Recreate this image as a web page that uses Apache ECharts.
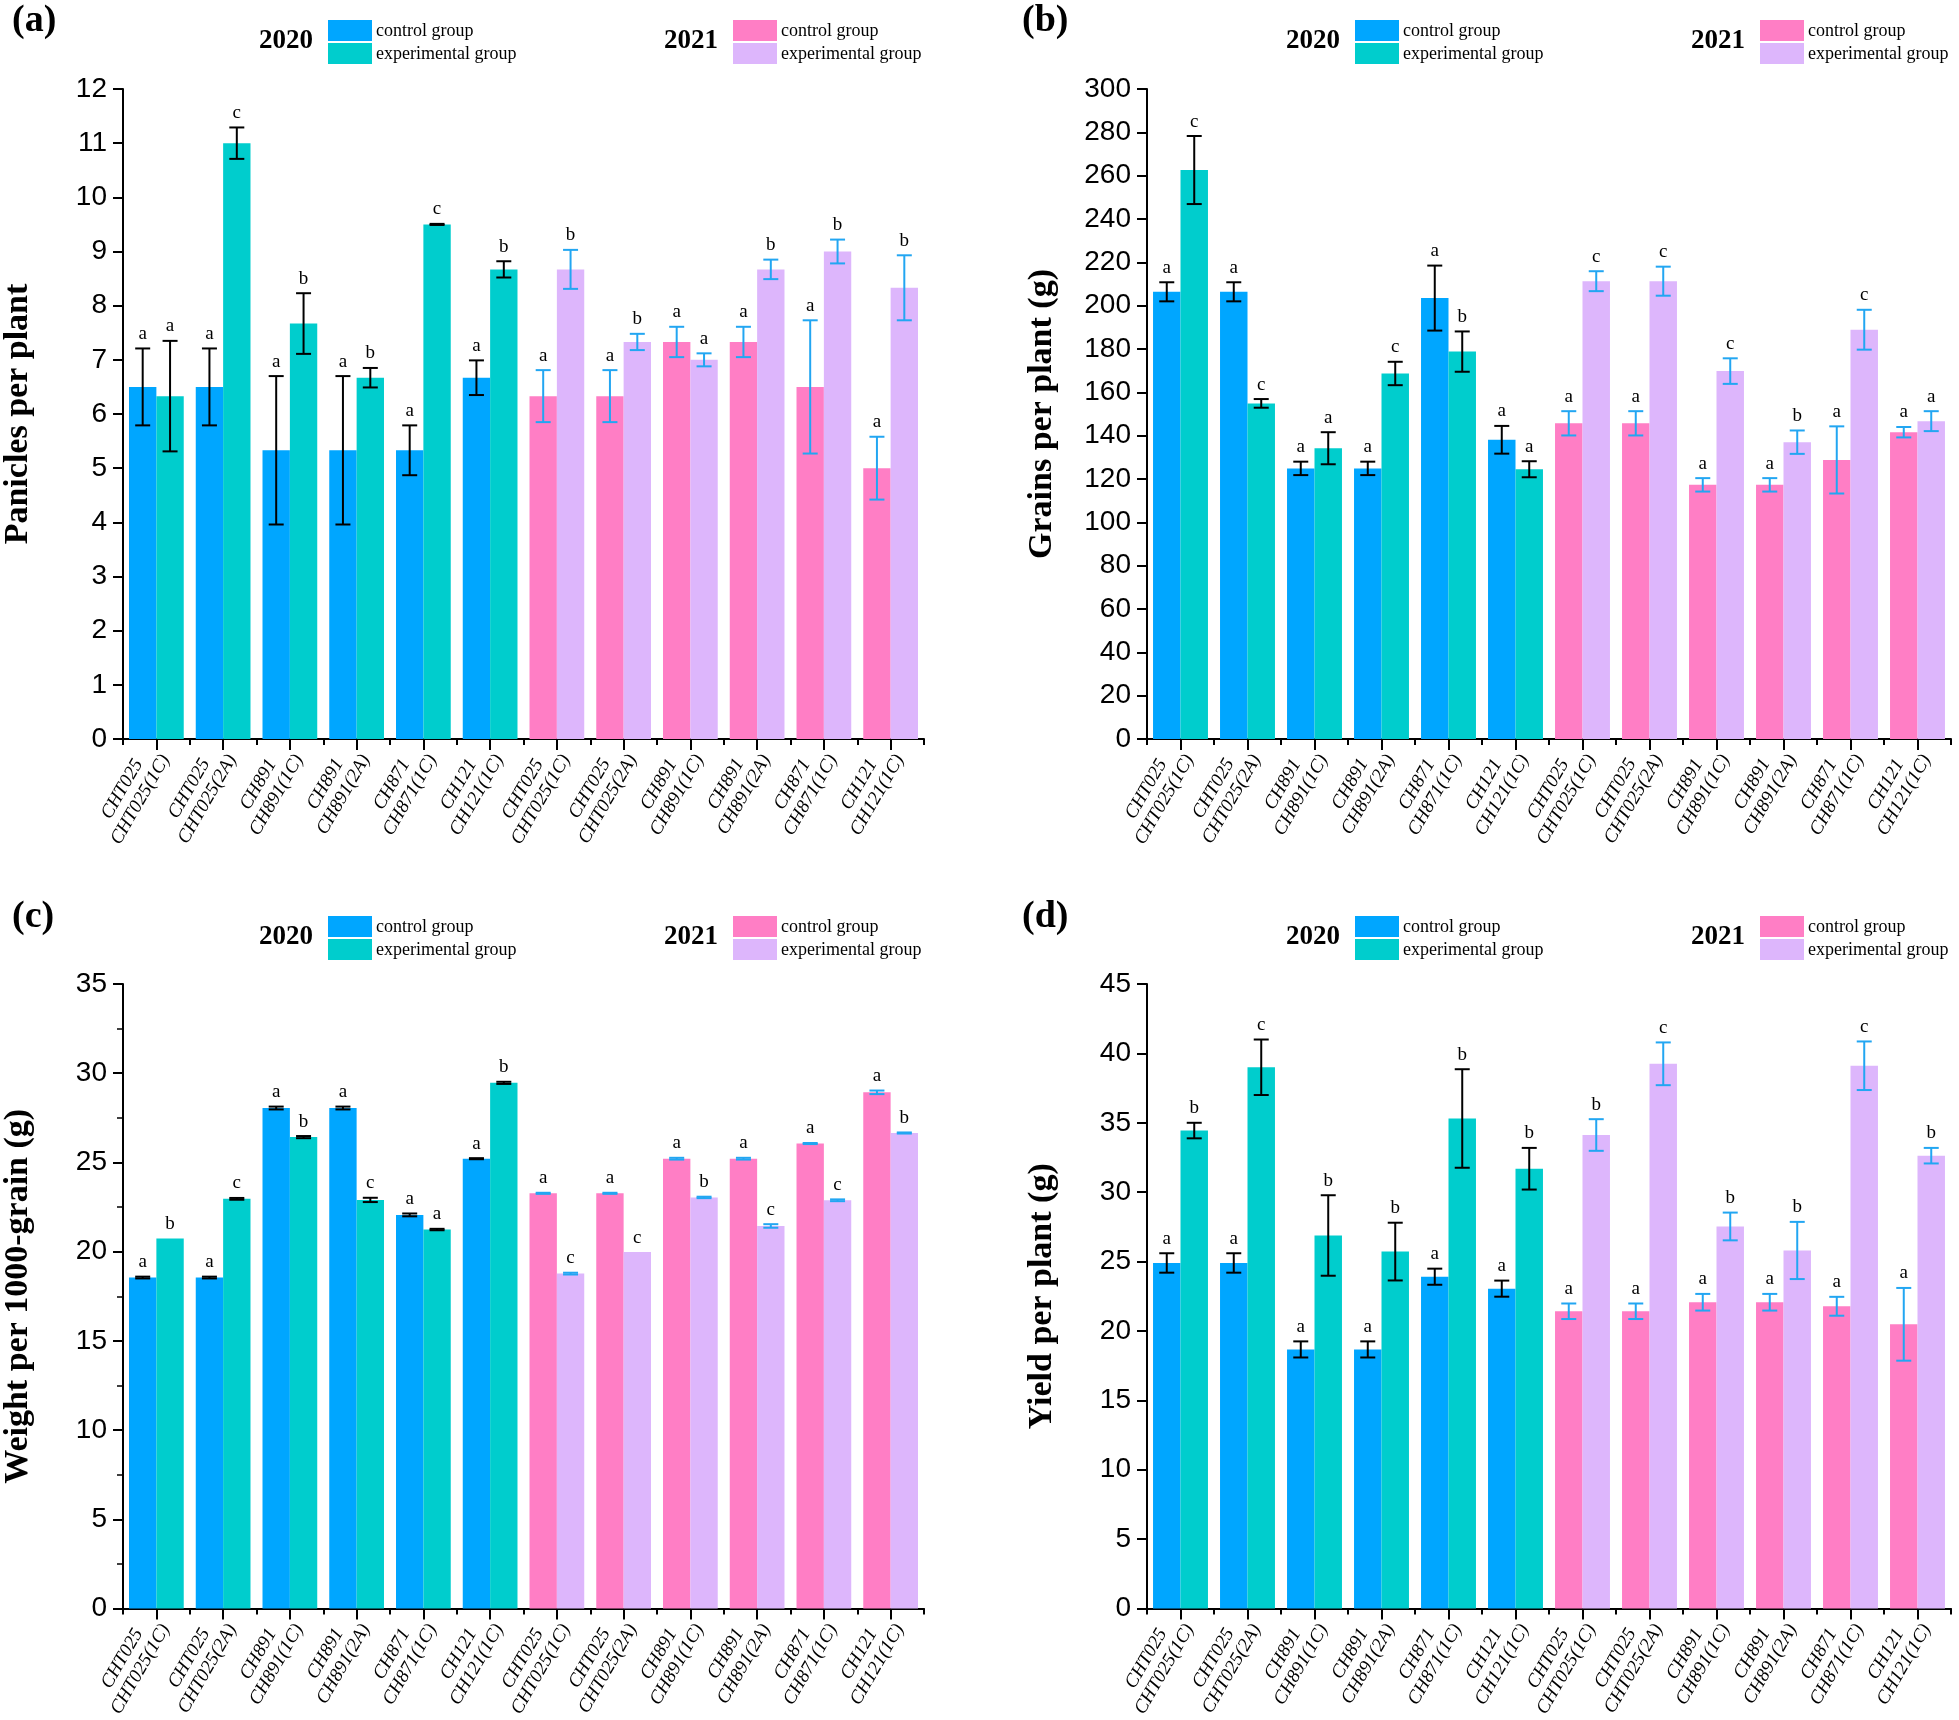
<!DOCTYPE html>
<html><head><meta charset="utf-8">
<script src="https://cdn.jsdelivr.net/npm/echarts@6/dist/echarts.min.js"></script>
<style>html,body{margin:0;padding:0;background:#fff}#c{width:1959px;height:1720px}</style>
</head><body><div id="c"></div>
<script>
// ---------- DATA ----------
const categories = [
  'CHT025\nCHT025(1C)', 'CHT025\nCHT025(2A)', 'CH891\nCH891(1C)', 'CH891\nCH891(2A)', 'CH871\nCH871(1C)', 'CH121\nCH121(1C)',
  'CHT025\nCHT025(1C)', 'CHT025\nCHT025(2A)', 'CH891\nCH891(1C)', 'CH891\nCH891(2A)', 'CH871\nCH871(1C)', 'CH121\nCH121(1C)'
];
const years = ['2020', '2021'];
const groupNames = ['control group', 'experimental group'];
const panelLetters = ['(a)', '(b)', '(c)', '(d)'];
const yTitles = ['Panicles per plant', 'Grains per plant (g)', 'Weight per 1000-grain (g)', 'Yield per plant (g)'];
const yMax = [12, 300, 35, 45];
const yStep = [1, 20, 5, 5];

// (a) Panicles per plant
const aCtrl    = [6.5, 6.5, 5.33, 5.33, 5.33, 6.67, 6.33, 6.33, 7.33, 7.33, 6.5, 5.0];
const aCtrlErr = [0.71, 0.71, 1.37, 1.37, 0.46, 0.32, 0.48, 0.48, 0.28, 0.28, 1.23, 0.58];
const aExp     = [6.33, 11.0, 7.67, 6.67, 9.5, 8.67, 8.67, 7.33, 7.0, 8.67, 9.0, 8.33];
const aExpErr  = [1.02, 0.29, 0.56, 0.18, 0.01, 0.15, 0.36, 0.15, 0.12, 0.18, 0.22, 0.6];
const aCtrlSig = ['a','a','a','a','a','a','a','a','a','a','a','a'];
const aExpSig  = ['a','c','b','b','c','b','b','b','a','b','b','b'];

// (b) Grains per plant
const bCtrl    = [206.4, 206.4, 124.9, 124.9, 203.5, 138.1, 145.7, 145.7, 117.3, 117.3, 128.8, 141.6];
const bCtrlErr = [4.4, 4.4, 3.1, 3.1, 15.0, 6.4, 5.6, 5.6, 3.1, 3.1, 15.5, 2.4];
const bExp     = [262.6, 154.9, 134.2, 168.7, 178.8, 124.5, 211.3, 211.3, 169.8, 137.0, 188.9, 146.7];
const bExpErr  = [15.7, 2.0, 7.4, 5.4, 9.3, 3.7, 4.6, 6.7, 5.9, 5.4, 9.2, 4.6];
const bCtrlSig = ['a','a','a','a','a','a','a','a','a','a','a','a'];
const bExpSig  = ['c','c','a','c','b','a','c','c','c','b','c','a'];

// (c) Weight per 1000-grain
const cCtrl    = [18.55, 18.55, 28.05, 28.05, 22.06, 25.21, 23.27, 23.27, 25.21, 25.21, 26.06, 28.93];
const cCtrlErr = [0.05, 0.05, 0.08, 0.08, 0.08, 0.03, 0.03, 0.03, 0.05, 0.05, 0.03, 0.1];
const cExp     = [20.74, 22.96, 26.42, 22.9, 21.24, 29.46, 18.77, 19.98, 23.04, 21.44, 22.88, 26.65];
const cExpErr  = [0, 0.05, 0.06, 0.12, 0.04, 0.06, 0.05, 0, 0.04, 0.1, 0.05, 0.03];
const cCtrlSig = ['a','a','a','a','a','a','a','a','a','a','a','a'];
const cExpSig  = ['b','c','b','c','a','b','c','c','b','c','c','b'];

// (d) Yield per plant
const dCtrl    = [24.9, 24.9, 18.67, 18.67, 23.91, 23.05, 21.42, 21.42, 22.07, 22.07, 21.78, 20.48];
const dCtrlErr = [0.7, 0.7, 0.58, 0.58, 0.58, 0.58, 0.56, 0.56, 0.6, 0.6, 0.68, 2.62];
const dExp     = [34.44, 39.0, 26.88, 25.72, 35.31, 31.69, 34.12, 39.25, 27.53, 25.8, 39.11, 32.63];
const dExpErr  = [0.56, 2.0, 2.9, 2.08, 3.55, 1.5, 1.14, 1.54, 1.0, 2.06, 1.75, 0.56];
const dCtrlSig = ['a','a','a','a','a','a','a','a','a','a','a','a'];
const dExpSig  = ['b','c','b','b','b','b','b','c','b','b','c','b'];

// ---------- STYLE / LAYOUT ----------
const C20 = ['#00A6FF', '#00CDCD'];
const C21 = ['#FF7EC5', '#DDB6FC'];
const ERR20 = '#000000';
const ERR21 = '#22A6F2';
const CAT_GAP = 0.18;

const panels = [
  {ctrl:aCtrl, ctrlErr:aCtrlErr, exp:aExp, expErr:aExpErr, ctrlSig:aCtrlSig, expSig:aExpSig},
  {ctrl:bCtrl, ctrlErr:bCtrlErr, exp:bExp, expErr:bExpErr, ctrlSig:bCtrlSig, expSig:bExpSig},
  {ctrl:cCtrl, ctrlErr:cCtrlErr, exp:cExp, expErr:cExpErr, ctrlSig:cCtrlSig, expSig:cExpSig},
  {ctrl:dCtrl, ctrlErr:dCtrlErr, exp:dExp, expErr:dExpErr, ctrlSig:dCtrlSig, expSig:dExpSig}
];
const gridPos = [
  {left:120, top:89, width:804, height:650},
  {left:1147, top:89, width:804, height:650},
  {left:120, top:984, width:804, height:651},
  {left:1147, top:984, width:804, height:651}
];
const panelOffset = [[0,0],[1027,0],[0,896],[1027,896]];
const letterPos = [[12,2],[1022,2],[12,898],[1022,898]];

const catIdx = categories.map((_, i) => String(i));

const option = {
  animation: false,
  backgroundColor: '#fff',
  grid: gridPos.map(g => Object.assign({containLabel:false}, g)),
  xAxis: [],
  yAxis: [],
  series: [],
  graphic: []
};

panels.forEach((P, p) => {
  option.xAxis.push({
    type:'category', gridIndex:p, data:catIdx, position:'bottom',
    axisLine:{show:true, onZero:false, lineStyle:{color:'#000', width:2}},
    axisTick:{show:true, alignWithLabel:false, interval:0, length:6, lineStyle:{color:'#000', width:2}},
    splitLine:{show:false},
    axisLabel:{
      interval:0, rotate:60, margin:12, color:'#000',
      formatter:(v, i) => {
        const parts = categories[+v].split('\n');
        return '{t|' + parts[0] + '}\n{t|' + parts[1] + '}';
      },
      rich:{t:{fontFamily:'Liberation Serif', fontStyle:'italic', fontSize:19, lineHeight:21, align:'center', color:'#000'}}
    }
  });
  option.xAxis.push({
    type:'category', gridIndex:p, data:catIdx, position:'bottom',
    axisLine:{show:false, onZero:false},
    axisTick:{show:true, alignWithLabel:true, interval:0, length:11, lineStyle:{color:'#000', width:2}},
    axisLabel:{show:false}, splitLine:{show:false}
  });
  option.yAxis.push({
    type:'value', gridIndex:p, min:0, max:yMax[p], interval:yStep[p],
    name:yTitles[p], nameLocation:'middle', nameGap:88,
    nameTextStyle:{fontFamily:'Liberation Serif', fontWeight:'bold', fontSize:34, color:'#000'},
    axisLine:{show:true, lineStyle:{color:'#000', width:2}},
    axisTick:{show:true, length:10, lineStyle:{color:'#000', width:2}},
    minorTick:{show:p === 2, splitNumber:2, length:6, lineStyle:{color:'#000', width:1.5}},
    axisLabel:{margin:16, fontFamily:"'Liberation Sans Narrow', 'Liberation Sans'", fontSize:28, color:'#000'},
    splitLine:{show:false}
  });

  const colorFor = (side) => (params) => params.dataIndex < 6 ? C20[side] : C21[side];
  option.series.push({
    type:'bar', name:groupNames[0], xAxisIndex:2*p, yAxisIndex:p, data:P.ctrl,
    barGap:'0%', barCategoryGap:(CAT_GAP*100)+'%', itemStyle:{color:colorFor(0)}
  });
  option.series.push({
    type:'bar', name:groupNames[1], xAxisIndex:2*p, yAxisIndex:p, data:P.exp,
    barGap:'0%', barCategoryGap:(CAT_GAP*100)+'%', itemStyle:{color:colorFor(1)}
  });

  const errData = [];
  const sigs = [];
  P.ctrl.forEach((v, i) => { errData.push([i, v, P.ctrlErr[i], 0]); sigs.push(P.ctrlSig[i]); });
  P.exp.forEach((v, i) => { errData.push([i, v, P.expErr[i], 1]); sigs.push(P.expSig[i]); });

  option.series.push({
    type:'custom', xAxisIndex:2*p, yAxisIndex:p, data:errData, z:10, silent:true,
    renderItem:(params, api) => {
      const ci = api.value(0), v = api.value(1), e = api.value(2), side = api.value(3);
      const band = api.size([1, 0])[0];
      const bw = band * (1 - CAT_GAP) / 2;
      const cx = api.coord([ci, 0])[0] + (side === 0 ? -bw / 2 : bw / 2);
      const yTop = api.coord([ci, v + e])[1];
      const yBot = api.coord([ci, v - e])[1];
      const col = ci < 6 ? ERR20 : ERR21;
      const capW = 7.5;
      const children = [];
      if (e > 0) {
        const ls = {stroke:col, lineWidth:2};
        children.push({type:'line', shape:{x1:cx, y1:yTop, x2:cx, y2:yBot}, style:ls});
        children.push({type:'line', shape:{x1:cx - capW, y1:yTop, x2:cx + capW, y2:yTop}, style:ls});
        children.push({type:'line', shape:{x1:cx - capW, y1:yBot, x2:cx + capW, y2:yBot}, style:ls});
      }
      children.push({type:'text', x:cx, y:yTop - 5, style:{
        text:sigs[params.dataIndex], fill:'#000', fontFamily:'Liberation Serif', fontSize:19,
        align:'center', verticalAlign:'bottom'}});
      return {type:'group', children};
    }
  });

  const [dx, dy] = panelOffset[p];
  [[0, 0], [405, 1]].forEach(([ox, yi]) => {
    const cols = yi === 0 ? C20 : C21;
    option.graphic.push({type:'text', x:286 + ox + dx, y:41 + dy, style:{
      text:years[yi], fontFamily:'Liberation Serif', fontWeight:'bold', fontSize:27, fill:'#000',
      align:'center', verticalAlign:'middle'}});
    option.graphic.push({type:'rect', shape:{x:328 + ox + dx, y:20 + dy, width:44, height:21}, style:{fill:cols[0]}});
    option.graphic.push({type:'rect', shape:{x:328 + ox + dx, y:43 + dy, width:44, height:21}, style:{fill:cols[1]}});
    option.graphic.push({type:'text', x:376 + ox + dx, y:31 + dy, style:{
      text:groupNames[0], fontFamily:'Liberation Serif', fontSize:18, fill:'#000', align:'left', verticalAlign:'middle'}});
    option.graphic.push({type:'text', x:376 + ox + dx, y:54 + dy, style:{
      text:groupNames[1], fontFamily:'Liberation Serif', fontSize:18, fill:'#000', align:'left', verticalAlign:'middle'}});
  });
  option.graphic.push({type:'text', x:letterPos[p][0], y:letterPos[p][1], style:{
    text:panelLetters[p], fontFamily:'Liberation Serif', fontWeight:'bold', fontSize:38, fill:'#000',
    align:'left', verticalAlign:'top'}});
});

const chart = echarts.init(document.getElementById('c'), null, {renderer:'canvas'});
chart.setOption(option);
</script>
</body></html>
